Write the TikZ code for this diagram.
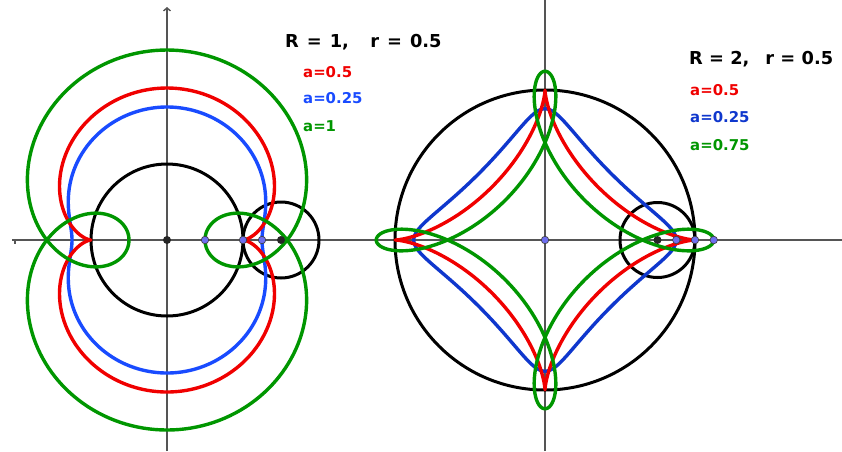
\documentclass[tikz,border=0pt]{standalone}
\usepackage{fontspec}
\setmainfont{DejaVu Sans}
\usetikzlibrary{arrows.meta}
\definecolor{curvered}{RGB}{240,0,0}
\definecolor{curveblue}{RGB}{25,75,255}
\definecolor{curvebluedark}{RGB}{15,55,205}
\definecolor{curvegreen}{RGB}{0,150,0}
\definecolor{axisgray}{RGB}{85,85,85}
\definecolor{pointfill}{RGB}{110,110,240}

\begin{document}
\begin{tikzpicture}[x=1pt,y=-1pt,line join=round,
  axisline/.style={axisgray,line width=1.4pt},
  curve/.style={line width=3.4pt},
  circ/.style={black,line width=3pt},
  gpoint/.style={circle,draw=black!75,fill=pointfill,inner sep=0pt,minimum size=7.5pt,line width=0.7pt},
  gpointblack/.style={circle,fill=black!85,inner sep=0pt,minimum size=8pt},
  title/.style={font=\fontsize{17.8}{20}\selectfont\bfseries,anchor=base west,inner sep=0pt},
  lbl/.style={font=\fontsize{14.9}{17}\selectfont\bfseries,anchor=base west,inner sep=0pt}]
\useasboundingbox (0,0) rectangle (842,451);
% axes
\draw[axisline] (12,240) -- (842,240);
\draw[axisline] (15,240) -- (15,244);
\draw[axisline,-{Straight Barb[length=3pt,width=7pt]}] (167,451) -- (167,7);
\draw[axisline] (545,451) -- (545,0);
% ================= epitrochoid R=1, r=0.5 =================
\begin{scope}[shift={(167,240)},x=76pt,y=76pt]
  \draw[circ] (0,0) circle (1);
  \draw[circ] (1.5,0) circle (0.5);
  \draw[curve,curveblue] plot[domain=0:360,samples=361]
    ({1.5*cos(\x)-0.25*cos(3*\x)},{1.5*sin(\x)-0.25*sin(3*\x)});
  \draw[curve,curvered] plot[domain=0:360,samples=361]
    ({1.5*cos(\x)-0.5*cos(3*\x)},{1.5*sin(\x)-0.5*sin(3*\x)});
  \draw[curve,curvegreen] plot[domain=0:360,samples=361]
    ({1.5*cos(\x)-cos(3*\x)},{1.5*sin(\x)-sin(3*\x)});
  \node[gpointblack] (oL) at (0,0) {};
  \node[gpoint] (pL1) at (0.5,0) {};
  \node[gpoint] (pL2) at (1,0) {};
  \node[gpoint] (pL3) at (1.25,0) {};
  \node[gpointblack] (cL) at (1.5,0) {};
\end{scope}
% ================= hypotrochoid R=2, r=0.5 =================
\begin{scope}[shift={(545,240)},x=75pt,y=75pt]
  \draw[circ] (0,0) circle (2);
  \draw[circ] (1.5,0) circle (0.5);
  \draw[curve,curvebluedark] plot[domain=0:360,samples=361]
    ({1.5*cos(\x)+0.25*cos(3*\x)},{1.5*sin(\x)-0.25*sin(3*\x)});
  \draw[curve,curvered] plot[domain=0:360,samples=361]
    ({1.5*cos(\x)+0.5*cos(3*\x)},{1.5*sin(\x)-0.5*sin(3*\x)});
  \draw[curve,curvegreen] plot[domain=0:360,samples=361]
    ({1.5*cos(\x)+0.75*cos(3*\x)},{1.5*sin(\x)-0.75*sin(3*\x)});
  \node[gpoint] (oR) at (0,0) {};
  \node[gpointblack] (cR) at (1.5,0) {};
  \node[gpoint] (pR1) at (1.75,0) {};
  \node[gpoint] (pR2) at (2,0) {};
  \node[gpoint] (pR3) at (2.25,0) {};
\end{scope}
% labels
\node[title] (titleL) at (285,47) {R\hspace{0.45em}=\hspace{0.45em}1,\hspace{1.2em}r\hspace{0.45em}=\hspace{0.45em}0.5};
\node[lbl,curvered] (aL1) at (303,77) {a=0.5};
\node[lbl,curveblue] (aL2) at (303,103) {a=0.25};
\node[lbl,curvegreen] (aL3) at (303,131) {a=1};
\node[title] (titleR) at (689,64) {R\hspace{0.35em}=\hspace{0.35em}2,\hspace{0.9em}r\hspace{0.35em}=\hspace{0.35em}0.5};
\node[lbl,curvered] (aR1) at (690,95) {a=0.5};
\node[lbl,curvebluedark] (aR2) at (690,122) {a=0.25};
\node[lbl,curvegreen] (aR3) at (690,150) {a=0.75};
\end{tikzpicture}
\end{document}
